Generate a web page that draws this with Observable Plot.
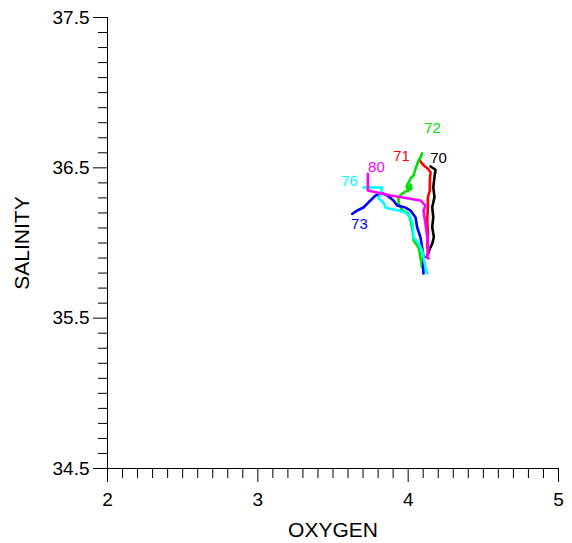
<!DOCTYPE html>
<html>
<head>
<meta charset="utf-8">
<script src="https://cdn.jsdelivr.net/npm/d3@7"></script>
<script src="https://cdn.jsdelivr.net/npm/@observablehq/plot@0.6"></script>
<style>
  html, body { margin: 0; padding: 0; background: white; }
</style>
</head>
<body>
<div id="chart"></div>
<script>
// Station profiles: oxygen (x) vs salinity (y)
const oxygen70   = [4.149, 4.182, 4.175, 4.167, 4.175, 4.160, 4.167, 4.160, 4.171, 4.160, 4.144, 4.137, 4.122];
const salinity70 = [36.509, 36.487, 36.438, 36.371, 36.305, 36.238, 36.172, 36.105, 36.039, 35.995, 35.961, 35.939, 35.906];

const oxygen71   = [4.077, 4.104, 4.131, 4.149, 4.144, 4.144, 4.131, 4.131, 4.127, 4.131, 4.127, 4.131];
const salinity71 = [36.549, 36.515, 36.494, 36.471, 36.416, 36.349, 36.305, 36.238, 36.150, 36.061, 35.995, 35.928];

const oxygen72   = [4.093, 4.082, 4.069, 4.050, 4.036, 4.016, 4.002, 3.989, 4.002, 4.022, 4.016, 3.995, 3.962, 3.936, 3.936, 3.962, 4.002, 4.016, 4.029, 4.036, 4.069, 4.082, 4.093];
const salinity72 = [36.597, 36.570, 36.549, 36.496, 36.449, 36.429, 36.402, 36.376, 36.349, 36.362, 36.389, 36.349, 36.330, 36.303, 36.263, 36.216, 36.196, 36.150, 36.083, 36.017, 35.970, 35.904, 35.837];

const oxygen73   = [3.628, 3.661, 3.703, 3.749, 3.783, 3.836, 3.861, 3.902, 3.927, 3.982, 4.016, 4.049, 4.060, 4.082, 4.093, 4.102, 4.100, 4.102];
const salinity73 = [36.194, 36.216, 36.236, 36.283, 36.316, 36.329, 36.316, 36.283, 36.249, 36.236, 36.216, 36.170, 36.103, 36.037, 35.970, 35.904, 35.837, 35.797];

const oxygen76   = [3.703, 3.827, 3.816, 3.803, 3.836, 3.849, 3.869, 3.936, 3.982, 4.016, 4.029, 4.036, 4.069, 4.093, 4.102, 4.115, 4.127];
const salinity76 = [36.369, 36.369, 36.329, 36.296, 36.269, 36.236, 36.229, 36.216, 36.203, 36.170, 36.130, 36.037, 35.997, 35.950, 35.904, 35.837, 35.797];

const oxygen80   = [3.732, 3.732, 3.883, 4.082, 4.115, 4.102, 4.115, 4.127, 4.135, 4.127, 4.135];
const salinity80 = [36.460, 36.349, 36.316, 36.283, 36.249, 36.216, 36.130, 36.037, 35.950, 35.904, 35.897];

const stations = ["70", "71", "72", "73", "76", "80"];
const stationColors = ["#000000", "#ff0000", "#00e000", "#0000ff", "#00ffff", "#ff00ff"];
const oxygenSeries = [oxygen70, oxygen71, oxygen72, oxygen73, oxygen76, oxygen80];
const salinitySeries = [salinity70, salinity71, salinity72, salinity73, salinity76, salinity80];

// Station label positions
const labelOxygen   = [4.202, 3.956, 4.162, 3.676, 3.610, 3.789];
const labelSalinity = [36.562, 36.575, 36.762, 36.123, 36.409, 36.502];

// Ticks
const xMajorTicks = [2, 3, 4, 5];
const yMajorTicks = [34.5, 35.5, 36.5, 37.5];
const xMinorTicks = d3.range(20, 51).map(d => d / 10).filter(d => !xMajorTicks.includes(d));
const yMinorTicks = d3.range(345, 376).map(d => d / 10).filter(d => !yMajorTicks.some(m => Math.abs(m - d) < 1e-9));

const rows = [];
stations.forEach((s, i) => {
  oxygenSeries[i].forEach((o, j) => rows.push({station: s, oxygen: o, salinity: salinitySeries[i][j]}));
});
const labels = stations.map((s, i) => ({station: s, oxygen: labelOxygen[i], salinity: labelSalinity[i]}));

const colorScale = {domain: stations, range: stationColors};

const chart = Plot.plot({
  width: 572,
  height: 543,
  marginLeft: 107,
  marginRight: 14,
  marginTop: 17,
  marginBottom: 75,
  style: {fontFamily: "'Liberation Sans', Arial, sans-serif", fontSize: "19px", background: "white", color: "black"},
  x: {domain: [2, 5]},
  y: {domain: [34.5, 37.5]},
  color: colorScale,
  marks: [
    Plot.axisX(xMinorTicks, {tickSize: 10, tickFormat: () => "", label: null}),
    Plot.axisX(xMajorTicks, {tickSize: 14, tickPadding: 10, tickFormat: d => String(d), label: null, fontSize: 19}),
    Plot.axisY(yMinorTicks, {tickSize: 9, tickFormat: () => "", label: null}),
    Plot.axisY(yMajorTicks, {tickSize: 14, tickPadding: 4, tickFormat: d => d.toFixed(1), label: null, fontSize: 19}),
    Plot.ruleX([2], {stroke: "black"}),
    Plot.ruleY([34.5], {stroke: "black"}),
    Plot.line(rows, {x: "oxygen", y: "salinity", z: "station", stroke: "station", strokeWidth: 2.6, strokeLinejoin: "round", strokeLinecap: "round"}),
    Plot.text(labels, {x: "oxygen", y: "salinity", text: "station", fill: "station", fontSize: 15}),
    Plot.text(["OXYGEN"], {frameAnchor: "bottom", textAnchor: "middle", lineAnchor: "middle", dy: 62, fontSize: 21, fill: "black"}),
    Plot.text(["SALINITY"], {frameAnchor: "left", textAnchor: "middle", lineAnchor: "middle", dx: -85, rotate: -90, fontSize: 21, fill: "black"})
  ]
});
document.getElementById("chart").appendChild(chart);
</script>
</body>
</html>
